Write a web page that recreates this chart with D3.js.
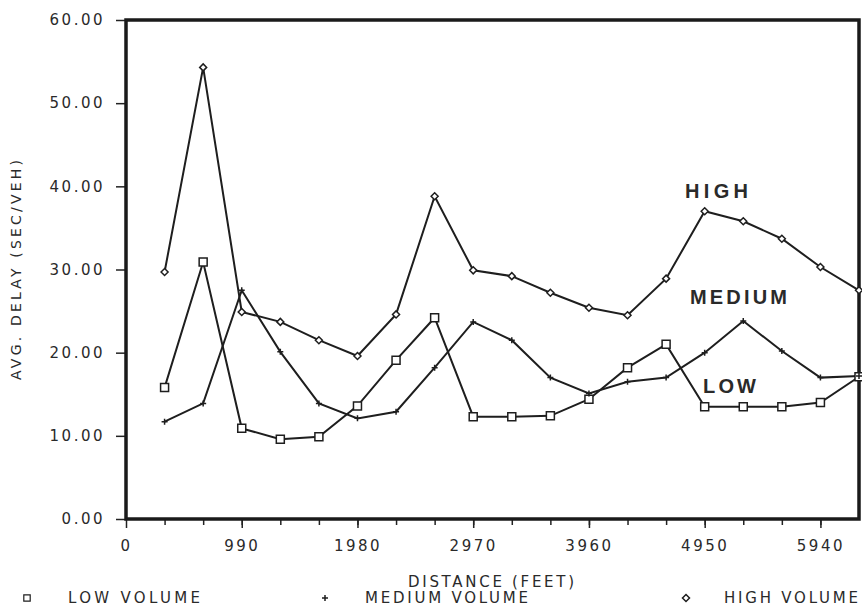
<!DOCTYPE html>
<html>
<head>
<meta charset="utf-8">
<script src="https://cdn.jsdelivr.net/npm/d3@7"></script>
<style>
body { margin: 0; background: #fff; }
text { font-family: "DejaVu Sans", sans-serif; fill: #2a2a2a; }
</style>
</head>
<body>
<div id="viz"></div>
<script>
var width = 862
var height = 606

// distance along the arterial (feet)
var distance = [330, 660, 990, 1320, 1650, 1980, 2310, 2640, 2970, 3300, 3630, 3960, 4290, 4620, 4950, 5280, 5610, 5940, 6270];
// avg. delay (sec/veh) per volume level
var lowVolume = [15.8, 30.9, 10.9, 9.6, 9.9, 13.6, 19.1, 24.2, 12.3, 12.3, 12.4, 14.4, 18.2, 21.0, 13.5, 13.5, 13.5, 14.0, 17.1];
var mediumVolume = [11.7, 13.9, 27.5, 20.1, 13.9, 12.1, 12.9, 18.2, 23.7, 21.5, 17.0, 15.1, 16.5, 17.0, 20.0, 23.8, 20.2, 17.0, 17.2];
var highVolume = [29.7, 54.3, 24.9, 23.7, 21.5, 19.6, 24.6, 38.8, 29.9, 29.2, 27.2, 25.4, 24.5, 28.9, 37.0, 35.8, 33.7, 30.3, 27.5];

var xTicks = [0, 990, 1980, 2970, 3960, 4950, 5940];
var yTicks = [0, 10, 20, 30, 40, 50, 60];
var legendNames = ["LOW VOLUME", "MEDIUM VOLUME", "HIGH VOLUME"];

var plotLeft = 126, plotRight = 859, plotTop = 20, plotBottom = 519;

var svg = d3.select("#viz")
    .append("svg")
    .attr("width", width)
    .attr("height", height);

var x = d3.scaleLinear().domain([0, 6270]).range([plotLeft, plotRight]);
var y = d3.scaleLinear().domain([0, 60]).range([plotBottom, plotTop]);

// y axis
var yAxis = svg.append("g")
    .attr("transform", "translate(" + plotLeft + ",0)")
    .call(d3.axisLeft(y).tickValues(yTicks).tickFormat(d3.format(".2f")).tickSize(10).tickPadding(11));
yAxis.select(".domain").remove();
yAxis.selectAll("line").attr("stroke", "#222").attr("stroke-width", 1.5);
yAxis.selectAll("text")
    .style("font-family", "DejaVu Sans")
    .style("font-size", "15px")
    .style("letter-spacing", "2.5px")
    .attr("fill", "#2a2a2a");

// x axis minor ticks every 330 ft
var minor = svg.append("g")
    .attr("transform", "translate(0," + plotBottom + ")")
    .call(d3.axisBottom(x).tickValues(d3.range(330, 6270, 330)).tickSize(6).tickFormat(""));
minor.select(".domain").remove();
minor.selectAll("line").attr("stroke", "#222").attr("stroke-width", 1.5);

var xAxis = svg.append("g")
    .attr("transform", "translate(0," + plotBottom + ")")
    .call(d3.axisBottom(x).tickValues(xTicks).tickSize(9).tickPadding(12).tickFormat(d3.format("d")));
xAxis.select(".domain").remove();
xAxis.selectAll("line").attr("stroke", "#222").attr("stroke-width", 1.5);
xAxis.selectAll("text")
    .style("font-family", "DejaVu Sans")
    .style("font-size", "15px")
    .style("letter-spacing", "2.5px")
    .attr("fill", "#2a2a2a");

// frame
svg.append("rect")
    .attr("x", plotLeft).attr("y", plotTop)
    .attr("width", plotRight - plotLeft).attr("height", plotBottom - plotTop)
    .attr("fill", "none")
    .attr("stroke", "#1a1a1a")
    .attr("stroke-width", 3.5);

// lines
var line = d3.line()
    .x(function(d, i) { return x(distance[i]); })
    .y(function(d) { return y(d); });

[lowVolume, mediumVolume, highVolume].forEach(function(series) {
    svg.append("path")
        .datum(series)
        .attr("fill", "none")
        .attr("stroke", "#1e1e1e")
        .attr("stroke-width", 2)
        .attr("d", line);
});

var squarePath = "M-4,-4H4V4H-4Z";
var plusPath = "M-3,0H3M0,-3V3";
var diamondPath = "M0,-3.5L3.5,0L0,3.5L-3.5,0Z";

function drawMarkers(series, shape) {
    svg.append("g")
        .selectAll("path")
        .data(series)
        .enter().append("path")
            .attr("transform", function(d, i) { return "translate(" + x(distance[i]) + "," + y(d) + ")"; })
            .attr("d", shape)
            .attr("fill", shape == plusPath ? "none" : "#fff")
            .attr("stroke", "#1e1e1e")
            .attr("stroke-width", 1.5);
}
drawMarkers(lowVolume, squarePath);
drawMarkers(mediumVolume, plusPath);
drawMarkers(highVolume, diamondPath);

// inline labels
var inline = [["HIGH", 685, 198, 63], ["MEDIUM", 690, 304, 97], ["LOW", 703, 393, 53]];
inline.forEach(function(l) {
    svg.append("text")
        .attr("x", l[1]).attr("y", l[2])
        .attr("textLength", l[3])
        .attr("lengthAdjust", "spacing")
        .style("font-family", "Liberation Sans")
        .style("font-weight", "bold")
        .style("font-size", "20px")
        .text(l[0]);
});

// axis titles
svg.append("text")
    .attr("transform", "translate(21,270) rotate(-90)")
    .attr("text-anchor", "middle")
    .attr("textLength", 220)
    .attr("lengthAdjust", "spacing")
    .style("font-size", "14px")
    .text("AVG. DELAY (SEC/VEH)");

svg.append("text")
    .attr("x", 408).attr("y", 587)
    .attr("textLength", 166)
    .attr("lengthAdjust", "spacing")
    .style("font-size", "15px")
    .text("DISTANCE (FEET)");

// legend
var legendX = [[27, 68, 132, squarePath], [325, 365, 163, plusPath], [686, 724, 134, diamondPath]];
legendX.forEach(function(l, i) {
    svg.append("path")
        .attr("transform", "translate(" + l[0] + ",598)" + (i == 0 ? " scale(0.8)" : ""))
        .attr("d", l[3])
        .attr("fill", "none")
        .attr("stroke", "#1e1e1e")
        .attr("stroke-width", 1.5);
    svg.append("text")
        .attr("x", l[1]).attr("y", 603)
        .attr("textLength", l[2])
        .attr("lengthAdjust", "spacing")
        .style("font-size", "15px")
        .text(legendNames[i]);
});
</script>
</body>
</html>
